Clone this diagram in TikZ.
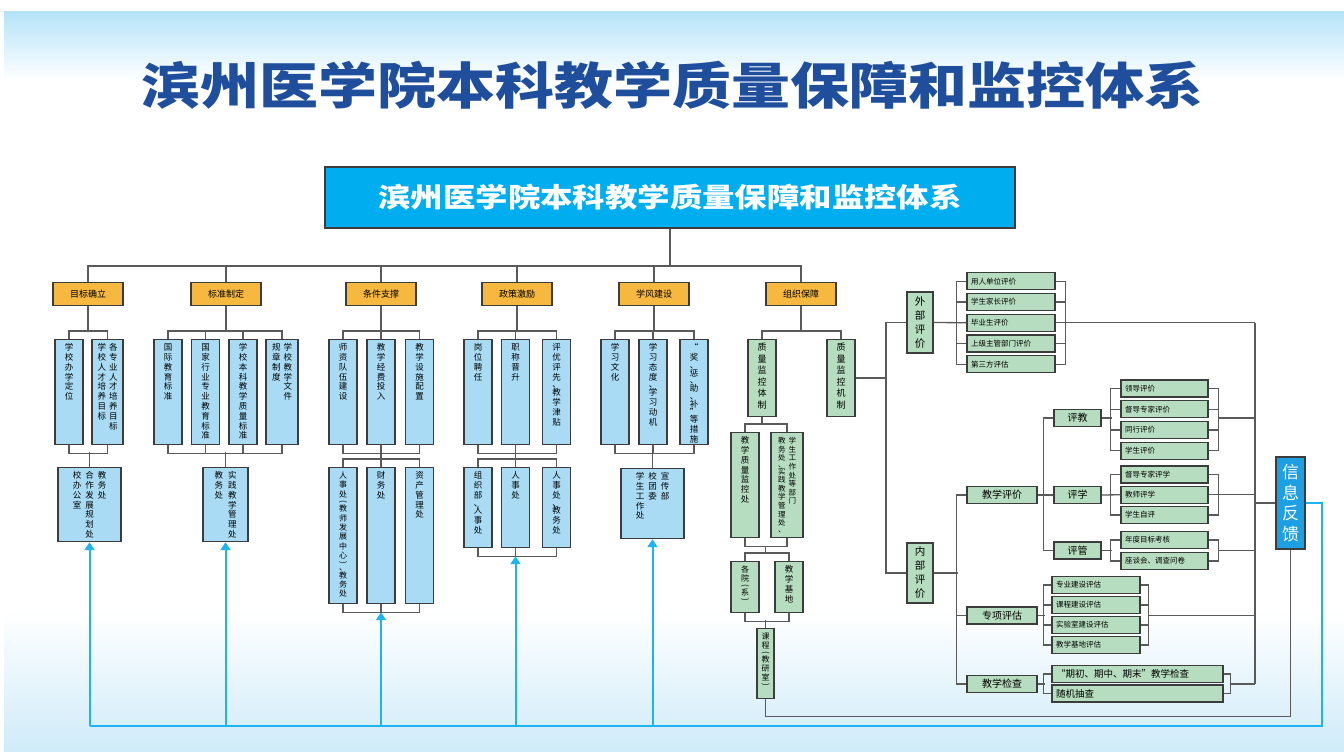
\documentclass[tikz,border=0pt]{standalone}
\usepackage{fontspec}
\setmainfont{Noto Sans CJK SC}
\usepackage{graphicx}
\usepackage{tikz}
\usetikzlibrary{arrows.meta,calc}

\definecolor{bd}{HTML}{3C3C3C}
\definecolor{lnc}{HTML}{5A5A5A}
\definecolor{ofill}{HTML}{F6B83F}
\definecolor{bfill}{HTML}{A9DCF4}
\definecolor{gfill}{HTML}{B6DDBF}
\definecolor{sysblue}{HTML}{00AEEF}
\definecolor{infoblue}{HTML}{1C9FE3}
\definecolor{fbcyan}{HTML}{1EB4F0}
\definecolor{ttl}{HTML}{1E4E9C}
\definecolor{skytop}{HTML}{B5E3F8}
\definecolor{skybot}{HTML}{CFEBF9}

% one character per line
\makeatletter
\newcommand\vcol[1]{\parbox[t]{1em}{\centering\@tfor\vch:=#1\do{\vch\\}}}
\makeatother
\newcommand\vpu[1]{\vspace{-2pt}#1\vspace{-2pt}}
\newcommand\vdun{\vpu{、}}
\newcommand\vlpar{\vpu{\rotatebox[origin=c]{-90}{(}}}
\newcommand\vrpar{\vpu{\rotatebox[origin=c]{-90}{)}}}

\tikzset{
  ln/.style={draw=lnc, line width=1.3pt},
  box/.style={draw=bd, line width=1.2pt, inner sep=0pt},
  obox/.style={box, fill=ofill, minimum width=70pt, minimum height=23pt, font=\fontsize{9}{10}\selectfont},
  bcol/.style={box, fill=bfill, anchor=north, minimum width=28pt, text height=11pt, text depth=#1, font=\fontsize{8.5}{9.8}\selectfont},
  bcol/.default=94pt,
  gcol/.style={bcol=#1, fill=gfill},
  gcol/.default=94pt,
  gh/.style={box, fill=gfill, minimum height=17pt, inner xsep=4pt, align=left, font=\fontsize{7.5}{8}\selectfont},
  gm/.style={box, fill=gfill, minimum height=17pt, font=\fontsize{10}{11}\selectfont},
  fbl/.style={draw=fbcyan, line width=2pt},
  fba/.style={fbl, -{Triangle[width=10pt,length=8pt]}},
}

\begin{document}
\begin{tikzpicture}[x=1pt, y=-1pt]
% Background
\fill[white] (0,0) rectangle (1344,752);
\shade[top color=skytop, bottom color=white] (4,12) rectangle (1344,80);
\shade[top color=white, bottom color=skybot] (4,610) rectangle (1344,752);
\useasboundingbox (0,0) rectangle (1344,752);

\node[text=ttl, font=\fontsize{50}{55}\selectfont\bfseries] (title) at (672,85)
  {\scalebox{1.18}[1]{滨州医学院本科教学质量保障和监控体系}};
\node[box, fill=sysblue, minimum width=690pt, minimum height=61pt, text=white,
  font=\fontsize{27}{30}\selectfont\bfseries] (sys) at (670,197.5)
  {\scalebox{1.2}[1]{滨州医学院本科教学质量保障和监控体系}};

% Six branches
\foreach \txt/\x [count=\i] in {目标确立/88,标准制定/226,条件支撑/381,政策激励/517,学风建设/654,组织保障/801}
  \node[obox] (o\i) at (\x,294) {\txt};

% Row A
\node[bcol] (a11) at (69,339) {\vcol{学校办学定位}};
\node[bcol, minimum width=31pt] (a12) at (107.5,339) {\vcol{学校人才培养目标}\hspace{3pt}\vcol{各专业人才培养目标}};
\node[bcol] (a21) at (168,339) {\vcol{国际教育标准}};
\node[bcol] (a22) at (205.5,339) {\vcol{国家行业专业教育标准}};
\node[bcol] (a23) at (243,339) {\vcol{学校本科教学质量标准}};
\node[bcol, minimum width=32pt] (a24) at (282,339) {\vcol{规章制度}\hspace{3pt}\vcol{学校教学文件}};
\node[bcol] (a31) at (343,339) {\vcol{师资队伍建设}};
\node[bcol] (a32) at (381,339) {\vcol{教学经费投入}};
\node[bcol] (a33) at (419.5,339) {\vcol{教学设施配置}};
\node[bcol] (a41) at (478,339) {\vcol{岗位聘任}};
\node[bcol] (a42) at (515.5,339) {\vcol{职称晋升}};
\node[bcol] (a43) at (556.5,339) {\vcol{评优评先\vdun 教学津贴}};
\node[bcol] (a51) at (615,339) {\vcol{学习文化}};
\node[bcol] (a52) at (653,339) {\vcol{学习态度\vdun 学习动机}};
\node[bcol] (a53) at (694,339) {\vcol{“奖\vdun 惩\vdun 助\vdun 补{\vpu{”}}等措施}};

% Row B
\node[bcol=63pt, minimum width=63pt] (b1) at (89.5,467) {\vcol{校办公室}\hspace{4pt}\vcol{合作发展规划处}\hspace{4pt}\vcol{教务处}};
\node[bcol=63pt, minimum width=45pt] (b2) at (225.5,467) {\vcol{教务处}\hspace{5pt}\vcol{实践教学管理处}};
\node[bcol=125pt, font=\fontsize{8}{9.3}\selectfont] (b31) at (343,467) {\vcol{人事处\vlpar 教师发展中心\vrpar\vdun 教务处}};
\node[bcol=125pt] (b32) at (381,467) {\vcol{财务处}};
\node[bcol=125pt] (b33) at (419.5,467) {\vcol{资产管理处}};
\node[bcol=69pt] (b41) at (478,467) {\vcol{组织部\vdun 人事处}};
\node[bcol=69pt] (b42) at (515.5,467) {\vcol{人事处}};
\node[bcol=69pt] (b43) at (556.5,467) {\vcol{人事处\vdun 教务处}};
\node[bcol=59pt, minimum width=63pt] (b5) at (652.5,468) {\vcol{学生工作处}\hspace{4pt}\vcol{校团委}\hspace{4pt}\vcol{宣传部}};

% Organisation column
\node[gcol=66pt, font=\fontsize{9}{11.5}\selectfont] (c1) at (762,339) {\vcol{质量监控体制}};
\node[gcol=66pt, font=\fontsize{9}{11.5}\selectfont] (c2) at (841,339) {\vcol{质量监控机制}};
\node[gcol] (d1) at (745,432) {\vcol{教学质量监控处}};
\node[gcol, minimum width=32pt, font=\fontsize{7.5}{8.6}\selectfont] (d2) at (787,432) {\vcol{教务处\vdun 实践教学管理处\vdun}\hspace{3pt}\vcol{学生工作处等部门}};
\node[gcol=40pt, font=\fontsize{8}{9}\selectfont] (e1) at (745,561) {\vcol{各院\vlpar 系\vrpar}};
\node[gcol=40pt] (e2) at (789,561) {\vcol{教学基地}};
\node[gcol=59pt, minimum width=17pt, font=\fontsize{8}{9}\selectfont] (f1) at (765.5,628) {\vcol{课程\vlpar 教研室\vrpar}};

% Evaluation
\node[box, fill=gfill, minimum width=26pt, minimum height=61pt, font=\fontsize{10.5}{14}\selectfont] (wb) at (920,322.5) {\vcol{外部评价}};
\node[box, fill=gfill, minimum width=26pt, minimum height=60pt, font=\fontsize{10.5}{14}\selectfont] (nb) at (920,573) {\vcol{内部评价}};
\foreach \txt [count=\i] in {用人单位评价,学生家长评价,毕业生评价,上级主管部门评价,第三方评估}
  \node[gh, text width=80pt] (w\i) at (1011,260.5+20.75*\i) {\txt};

\node[gm, minimum width=70pt] (p1) at (1002,495) {教学评价};
\node[gm, minimum width=70pt] (p2) at (1002,615.5) {专项评估};
\node[gm, minimum width=70pt] (p3) at (1002,684) {教学检查};
\node[gm, minimum width=47pt] (q1) at (1077.5,418) {评教};
\node[gm, minimum width=47pt] (q2) at (1077.5,495) {评学};
\node[gm, minimum width=47pt] (q3) at (1077.5,550.5) {评管};

\foreach \txt [count=\i] in {领导评价,督导专家评价,同行评价,学生评价}
  \node[gh, text width=79pt] (r\i) at (1164.5,367.8+20.7*\i) {\txt};
\foreach \txt [count=\i] in {督导专家评学,教师评学,学生自评}
  \node[gh, text width=79pt] (s\i) at (1164.5,454.25+20.25*\i) {\txt};
\foreach \txt [count=\i] in {年度目标考核,座谈会、调查问卷}
  \node[gh, text width=79pt] (t\i) at (1164.5,519+21*\i) {\txt};
\foreach \txt [count=\i] in {专业建设评估,课程建设评估,实验室建设评估,教学基地评估}
  \node[gh, text width=80pt] (u\i) at (1096,565+20*\i) {\txt};
\foreach \txt [count=\i] in {“期初、期中、期末”教学检查,随机抽查}
  \node[gh, text width=163pt, font=\fontsize{9.5}{10}\selectfont] (v\i) at (1137.5,654.5+19.5*\i) {\txt};

\node[box, fill=infoblue, text=white, minimum width=29pt, minimum height=92pt,
  font=\fontsize{17}{20.5}\selectfont] (info) at (1290.5,503) {\vcol{信息反馈}};

% Tree lines
\coordinate (bus) at (670,266);
\draw[ln] (sys.south) -- (bus);
\draw[ln] (o1.north) |- (bus) -| (o6.north);
\foreach \i in {2,...,5} \draw[ln] (o\i.north) -- (o\i.north |- bus);
\foreach \i in {1,...,6} \draw[ln] (o\i.south) -- ++(0,26);

\foreach \l/\r in {a11/a12,a21/a24,a31/a33,a41/a43,a51/a53,c1/c2,d1/d2,b31/b33,b41/b43,e1/e2}
  \draw[ln] (\l.north) -- ++(0,-8) -| (\r.north);
\foreach \l/\r in {a11/a12,a21/a24,a31/a33,a41/a43,a51/a53,b31/b33,b41/b43,d1/d2,e1/e2}
  \draw[ln] (\l.south) -- ++(0,8) -| (\r.south);
\foreach \m in {a22,a23,a32,a42,a52,b32,b42} {
  \draw[ln] (\m.north) -- ++(0,-8);
  \draw[ln] (\m.south) -- ++(0,8);
}
\draw[ln] (b1.north) -- ++(0,-15);
\draw[ln] (b2.north) -- ++(0,-15);
\draw[ln] (a32.south) -- (b32.north);
\draw[ln] (a42.south) -- (b42.north);
\draw[ln] (b5.north) -- ++(0,-16);
\draw[ln] (c1.south) -- ++(0,8);
\draw[ln] (f1.north |- d1.south) ++(0,8) -- ++(0,8);
\draw[ln] (f1.north) -- ++(0,-8);
\draw[ln] (f1.south) -- ++(0,17) -| (info.south);

% Evaluation lines
\coordinate (lt) at (886,322.5);
\coordinate (rt) at (1255,322.5);
\draw[ln] (wb.west) -- (lt) |- (nb.west);
\draw[ln] (c2.east) -- (c2.east -| lt);
\draw[ln] (wb.east) -- (w3.west);
\foreach \a/\b in {w1/w5,r1/r4,s1/s3,t1/t2,q1/q3,p1/p3}
  \draw[ln] (\a.west) -- ++(-10,0) |- (\b.west);
\foreach \m in {w2,w3,w4,r2,r3,s2,q2,p2} \draw[ln] (\m.west) -- ++(-10,0);
\foreach \a/\b in {w1/w5,r1/r4,s1/s3,t1/t2}
  \draw[ln] (\a.east) -- ++(10,0) |- (\b.east);
\foreach \m in {w2,w3,w4,r2,r3,s2} \draw[ln] (\m.east) -- ++(10,0);
\draw[ln] (u1.west) -- ++(-8,0) |- (u4.west);
\draw[ln] (u1.east) -- ++(8,0) |- (u4.east);
\foreach \m in {u2,u3} {
  \draw[ln] (\m.west) -- ++(-8,0);
  \draw[ln] (\m.east) -- ++(8,0);
}
\draw[ln] (v1.west) -- ++(-8,0) |- (v2.west);
\draw[ln] (v1.east) -- ++(7,0) |- (v2.east);

\draw[ln] (w3.east) -- (w3.east -| rt);
\draw[ln] (rt) -- (rt |- p3.east);
\draw[ln] (nb.east) -- ++(24,0);
\draw[ln] (p1.east) -- (q2.west);
\draw[ln] (q1.east) -- ++(10,0);
\draw[ln] (q3.east) -- ++(10,0);
\draw[ln] (q1.east -| r1.east) ++(10,0) -- (q1.east -| rt);
\draw[ln] (q2.east) -- (s2.west);
\draw[ln] (s2.east) -- (s2.east -| rt);
\draw[ln] (q3.east -| t1.east) ++(10,0) -- (q3.east -| rt);
\draw[ln] (p2.east) -- ++(7,0);
\draw[ln] (p2.east -| u1.east) ++(8,0) -- (p2.east -| rt);
\draw[ln] (p3.east) -- ++(7,0);
\draw[ln] (p3.east -| v1.east) ++(7,0) -- (p3.east -| rt);
\draw[ln] (info.west) -- (info.west -| rt);

% Feedback
\coordinate (fb) at (89.5,726);
\draw[fbl] (info.east) -- ++(16,0) |- (fb);
\draw[fba] (fb) -- (b1.south);
\draw[fba] (b2.south |- fb) -- (b2.south);
\draw[fba] (b32.south |- fb) -- ([yshift=-8pt]b32.south);
\draw[fba] (b42.south |- fb) -- ([yshift=-8pt]b42.south);
\draw[fba] (b5.south |- fb) -- (b5.south);
\end{tikzpicture}
\end{document}
